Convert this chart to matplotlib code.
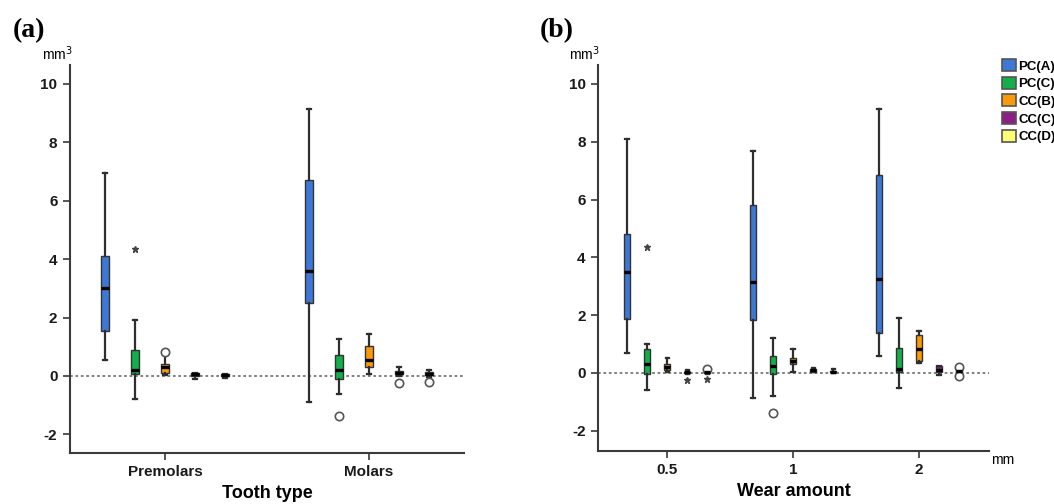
import matplotlib
matplotlib.use("Agg")
import matplotlib.pyplot as plt
from matplotlib.patches import Patch

plt.rcParams['font.family'] = ['Liberation Sans', 'DejaVu Sans']

series = ["PC(A)", "PC(C)", "CC(B)", "CC(C)", "CC(D)"]
colors = ["#3D78D6", "#12AF4A", "#FA9A0A", "#8E1D86", "#FFFF73"]

# Panel (a): tooth type
groups_a = ["Premolars", "Molars"]
# per group, per series: [whislo, q1, med, q3, whishi]
stats_a = [
    [[0.55, 1.55, 3.0, 4.12, 6.95],
     [-0.8, 0.05, 0.2, 0.88, 1.9],
     [0.02, 0.1, 0.3, 0.4, 0.7],
     [-0.1, 0.0, 0.05, 0.1, 0.1],
     [-0.08, 0.0, 0.03, 0.07, 0.08]],
    [[-0.88, 2.5, 3.6, 6.72, 9.15],
     [-0.62, -0.1, 0.22, 0.72, 1.28],
     [0.08, 0.3, 0.55, 1.02, 1.45],
     [0.0, 0.05, 0.1, 0.18, 0.3],
     [-0.05, 0.02, 0.08, 0.12, 0.22]],
]
circles_a = [[[], [], [0.82], [], []],
             [[], [-1.38], [], [-0.23], [-0.2]]]
stars_a = [[[], [4.35], [], [], []],
           [[], [], [], [], []]]

# Panel (b): wear amount
groups_b = ["0.5", "1", "2"]
stats_b = [
    [[0.7, 1.85, 3.5, 4.8, 8.1],
     [-0.6, -0.05, 0.32, 0.82, 1.0],
     [0.02, 0.1, 0.2, 0.3, 0.52],
     [-0.05, 0.0, 0.02, 0.05, 0.1],
     [-0.05, 0.0, 0.02, 0.04, 0.05]],
    [[-0.88, 1.82, 3.15, 5.82, 7.68],
     [-0.8, -0.02, 0.25, 0.6, 1.22],
     [0.05, 0.32, 0.42, 0.52, 0.82],
     [0.02, 0.05, 0.1, 0.15, 0.18],
     [0.0, 0.02, 0.05, 0.08, 0.12]],
    [[0.58, 1.38, 3.25, 6.85, 9.15],
     [-0.52, 0.02, 0.15, 0.85, 1.9],
     [0.33, 0.4, 0.82, 1.3, 1.45],
     [-0.08, 0.05, 0.1, 0.25, 0.25],
     [0.0, 0.05, 0.08, 0.12, 0.12]],
]
circles_b = [[[], [], [], [], [0.15]],
             [[], [-1.38], [], [], []],
             [[], [], [], [], [0.22, -0.1]]]
stars_b = [[[], [4.35], [], [-0.25], [-0.22]],
           [[], [], [], [], []],
           [[], [], [], [], []]]

yticks = [-2, 0, 2, 4, 6, 8, 10]

fig = plt.figure(figsize=(10.54, 5.04), dpi=100)
ax_a = fig.add_axes([0.0664, 0.1012, 0.3738, 0.7698])
ax_b = fig.add_axes([0.5674, 0.1052, 0.3710, 0.7660])

spine_col = "#3a3a3a"


def draw(ax, groups, stats, circles, stars, spacing, width, capw, xlim, ylim):
    for gi in range(len(groups)):
        for si in range(len(series)):
            lo, q1, med, q3, hi = stats[gi][si]
            pos = gi + (si - 2) * spacing
            st = dict(whislo=lo, q1=q1, med=med, q3=q3, whishi=hi,
                      fliers=circles[gi][si])
            ax.bxp([st], positions=[pos], widths=width, capwidths=capw,
                   showfliers=True, patch_artist=True,
                   boxprops=dict(facecolor=colors[si], edgecolor="#333333", linewidth=1.0),
                   medianprops=dict(color="black", linewidth=2.4),
                   whiskerprops=dict(color="#2e2e2e", linewidth=1.6),
                   capprops=dict(color="#2e2e2e", linewidth=1.6),
                   flierprops=dict(marker="o", markerfacecolor="white",
                                   markeredgecolor="#555555", markersize=6,
                                   markeredgewidth=1.2),
                   zorder=3)
            if stars[gi][si]:
                ax.plot([pos] * len(stars[gi][si]), stars[gi][si], linestyle="none",
                        marker="*", color="#444444", markersize=5, zorder=4)
    ax.axhline(0, color="#777777", linestyle=(0, (1.5, 1.5)), linewidth=1.3, zorder=2)
    ax.set_xlim(*xlim)
    ax.set_ylim(*ylim)
    ax.set_xticks(range(len(groups)))
    ax.set_xticklabels(groups)
    ax.set_yticks(yticks)
    ax.set_yticklabels([str(t) for t in yticks])
    for s in ["top", "right"]:
        ax.spines[s].set_visible(False)
    for s in ["left", "bottom"]:
        ax.spines[s].set_color(spine_col)
        ax.spines[s].set_linewidth(1.5)
    ax.tick_params(axis="both", direction="out", length=5, width=1.2, color=spine_col,
                   labelsize=11, pad=4)
    for lab in ax.get_xticklabels() + ax.get_yticklabels():
        lab.set_fontweight("bold")
        lab.set_color("#1a1a1a")


draw(ax_a, groups_a, stats_a, circles_a, stars_a, 0.147, 0.04, 0.018,
     (-0.466, 1.466), (-2.64, 10.65))
draw(ax_b, groups_b, stats_b, circles_b, stars_b, 0.159, 0.045, 0.025,
     (-0.548, 2.556), (-2.7, 10.66))

ax_a.set_xlabel("Tooth type", fontsize=13, fontweight="bold", labelpad=4)
ax_b.set_xlabel("Wear amount", fontsize=13, fontweight="bold", labelpad=4)

fig.text(0.012, 0.94, "(a)", fontsize=20, family="Liberation Serif", va="center",
         fontweight="bold")
fig.text(0.512, 0.94, "(b)", fontsize=20, family="Liberation Serif", va="center",
         fontweight="bold")
fig.text(0.040, 0.893, "mm$^3$", fontsize=10, va="center")
fig.text(0.540, 0.893, "mm$^3$", fontsize=10, va="center")
fig.text(0.940, 0.088, "mm", fontsize=10, va="center")

handles = [Patch(facecolor=c, edgecolor="#555555", linewidth=1.2) for c in colors]
fig.legend(handles, series, loc="upper left", bbox_to_anchor=(0.946, 0.893),
           frameon=False, handlelength=1.0, handleheight=1.0, handletextpad=0.2,
           labelspacing=0.32, borderaxespad=0,
           prop=dict(weight="bold", size=9.5))

fig.savefig("out.png", dpi=100)
